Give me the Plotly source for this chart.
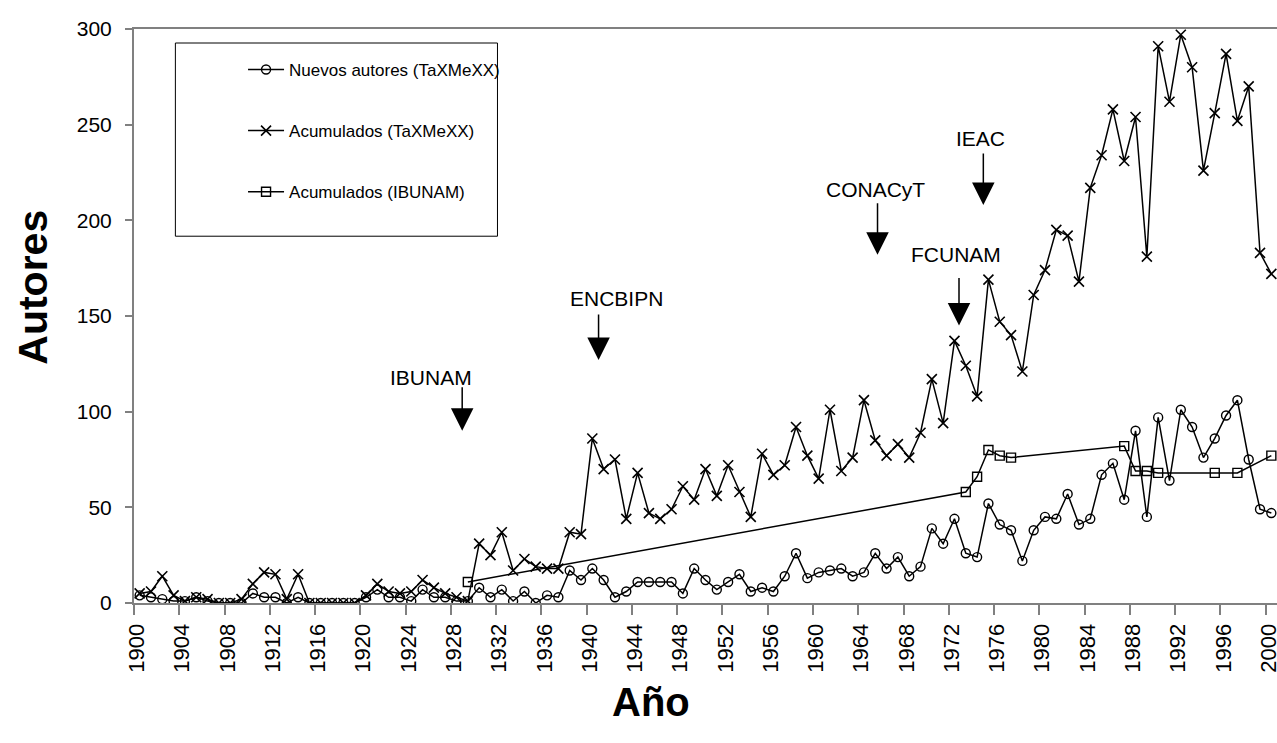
import plotly.graph_objects as go

# ---------------- data ----------------
years = list(range(1900, 2001))

nuevos_autores = [
    4, 3, 2, 1, 1, 3, 1, 0, 0, 0,          # 1900-1909
    5, 3, 3, 0, 3, 0, 0, 0, 0, 0,          # 1910-1919
    3, 7, 3, 3, 1, 7, 3, 3, 1, 1,          # 1920-1929
    8, 3, 7, 1, 6, 0, 4, 3, 17, 12,        # 1930-1939
    18, 12, 3, 6, 11, 11, 11, 11, 5, 18,   # 1940-1949
    12, 7, 11, 15, 6, 8, 6, 14, 26, 13,    # 1950-1959
    16, 17, 18, 14, 16, 26, 18, 24, 14, 19,  # 1960-1969
    39, 31, 44, 26, 24, 52, 41, 38, 22, 38,  # 1970-1979
    45, 44, 57, 41, 44, 67, 73, 54, 90, 45,  # 1980-1989
    97, 64, 101, 92, 76, 86, 98, 106, 75, 49,  # 1990-1999
    47,                                      # 2000
]

acumulados_taxmexx = [
    5, 6, 14, 4, 1, 3, 2, 0, 0, 2,         # 1900-1909
    10, 16, 15, 2, 15, 0, 0, 0, 0, 0,      # 1910-1919
    4, 10, 6, 5, 6, 12, 8, 5, 3, 1,        # 1920-1929
    31, 25, 37, 17, 23, 19, 18, 18, 37, 36,  # 1930-1939
    86, 70, 75, 44, 68, 47, 44, 49, 61, 54,  # 1940-1949
    70, 56, 72, 58, 45, 78, 67, 72, 92, 77,  # 1950-1959
    65, 101, 69, 76, 106, 85, 77, 83, 76, 89,  # 1960-1969
    117, 94, 137, 124, 108, 169, 147, 140, 121, 161,  # 1970-1979
    174, 195, 192, 168, 217, 234, 258, 231, 254, 181,  # 1980-1989
    291, 262, 297, 280, 226, 256, 287, 252, 270, 183,  # 1990-1999
    172,                                    # 2000
]

ibunam_years = [1929, 1973, 1974, 1975, 1976, 1977, 1987, 1988, 1989, 1990, 1995, 1997, 2000]
acumulados_ibunam = [11, 58, 66, 80, 77, 76, 82, 69, 69, 68, 68, 68, 77]

series_names = ["Nuevos autores (TaXMeXX)", "Acumulados (TaXMeXX)", "Acumulados (IBUNAM)"]

tick_years = list(range(1900, 2001, 4))
tick_labels = [str(y) for y in tick_years]
y_ticks = [0, 50, 100, 150, 200, 250, 300]

# institutional events (arrow year, arrow tip value, label year, label value)
event_names = ["IBUNAM", "ENCBIPN", "CONACyT", "FCUNAM", "IEAC"]
event_years = [1928.5, 1940.55, 1965.2, 1972.4, 1974.55]
event_tips = [90, 127, 182, 145, 208]
event_label_years = [1925.7, 1942.1, 1965.0, 1972.1, 1974.3]
event_label_values = [118, 159, 216, 182, 243]
event_arrow_len = [45, 47, 53, 49, 53]

# ---------------- figure ----------------
SANS = "Liberation Sans, Arial, sans-serif"

fig = go.Figure()

fig.add_trace(go.Scatter(
    x=years, y=nuevos_autores, name=series_names[0], mode="lines+markers",
    line=dict(color="black", width=1.5),
    marker=dict(symbol="circle-open", size=9, color="black", line=dict(width=1.4, color="black")),
    legendgroup="a",
))
fig.add_trace(go.Scatter(
    x=years, y=acumulados_taxmexx, name=series_names[1], mode="lines+markers",
    line=dict(color="black", width=1.5),
    marker=dict(symbol="x-thin-open", size=10, color="black", line=dict(width=1.6, color="black")),
    legendgroup="b",
))
fig.add_trace(go.Scatter(
    x=ibunam_years, y=acumulados_ibunam, name=series_names[2], mode="lines+markers",
    line=dict(color="black", width=1.5),
    marker=dict(symbol="square-open", size=9, color="black", line=dict(width=1.4, color="black")),
    legendgroup="c",
))

annotations = []
for name, ex, ey, lx, ly, ln in zip(event_names, event_years, event_tips,
                                     event_label_years, event_label_values, event_arrow_len):
    annotations.append(dict(
        x=ex, y=ey, xref="x", yref="y", text="", showarrow=True,
        ax=0, ay=-ln, arrowhead=2, arrowsize=3.0, arrowwidth=1.5,
        arrowcolor="black", standoff=0,
    ))
    annotations.append(dict(
        x=lx, y=ly, xref="x", yref="y", text=name, showarrow=False,
        font=dict(family=SANS, size=21, color="black"),
        xanchor="center", yanchor="middle",
    ))

# axis titles
annotations.append(dict(
    x=-0.088, y=0.55, xref="paper", yref="paper", text="<b>Autores</b>",
    showarrow=False, textangle=-90, font=dict(family=SANS, size=41, color="black"),
    xanchor="center", yanchor="middle",
))
annotations.append(dict(
    x=0.452, y=-0.172, xref="paper", yref="paper", text="<b>Año</b>",
    showarrow=False, font=dict(family=SANS, size=40, color="black"),
    xanchor="center", yanchor="middle",
))

fig.update_layout(
    width=1277, height=743,
    margin=dict(l=134, r=0, t=29, b=140, autoexpand=False),
    paper_bgcolor="white", plot_bgcolor="white",
    font=dict(family=SANS, color="black"),
    showlegend=True,
    legend=dict(
        x=0.0954, y=0.96, xanchor="left", yanchor="top",
        bgcolor="rgba(0,0,0,0)", borderwidth=0,
        font=dict(family=SANS, size=17, color="black"),
        tracegroupgap=36, traceorder="grouped", itemwidth=36,
    ),
    shapes=[dict(
        type="rect", xref="paper", yref="paper",
        x0=0.0362, x1=0.318, y0=0.639, y1=0.9756,
        line=dict(color="black", width=1), fillcolor="white", layer="below",
    )],
    annotations=annotations,
    xaxis=dict(
        range=[1899.5, 2000.5], tickmode="array",
        tickvals=[y - 0.5 for y in tick_years], ticktext=tick_labels,
        ticklabelshift=3, ticklabeloverflow="allow",
        tickangle=-90, ticks="outside", ticklen=10, tickwidth=1.5, tickcolor="#808080",
        tickfont=dict(family=SANS, size=22, color="black"),
        showline=True, linecolor="#808080", linewidth=2, mirror=True,
        showgrid=False, zeroline=False, automargin=False,
    ),
    yaxis=dict(
        range=[0, 300], tickmode="array", tickvals=y_ticks,
        ticks="outside", ticklen=7, tickwidth=1.5, tickcolor="#808080",
        tickfont=dict(family=SANS, size=21, color="black"),
        ticklabelstandoff=9,
        showline=True, linecolor="#808080", linewidth=2, mirror=True,
        showgrid=False, zeroline=False, automargin=False,
    ),
)

fig.write_html(
    "out.html",
    config={"displayModeBar": False},
    post_script="document.body.style.margin='0px';document.body.style.padding='0px';",
)
